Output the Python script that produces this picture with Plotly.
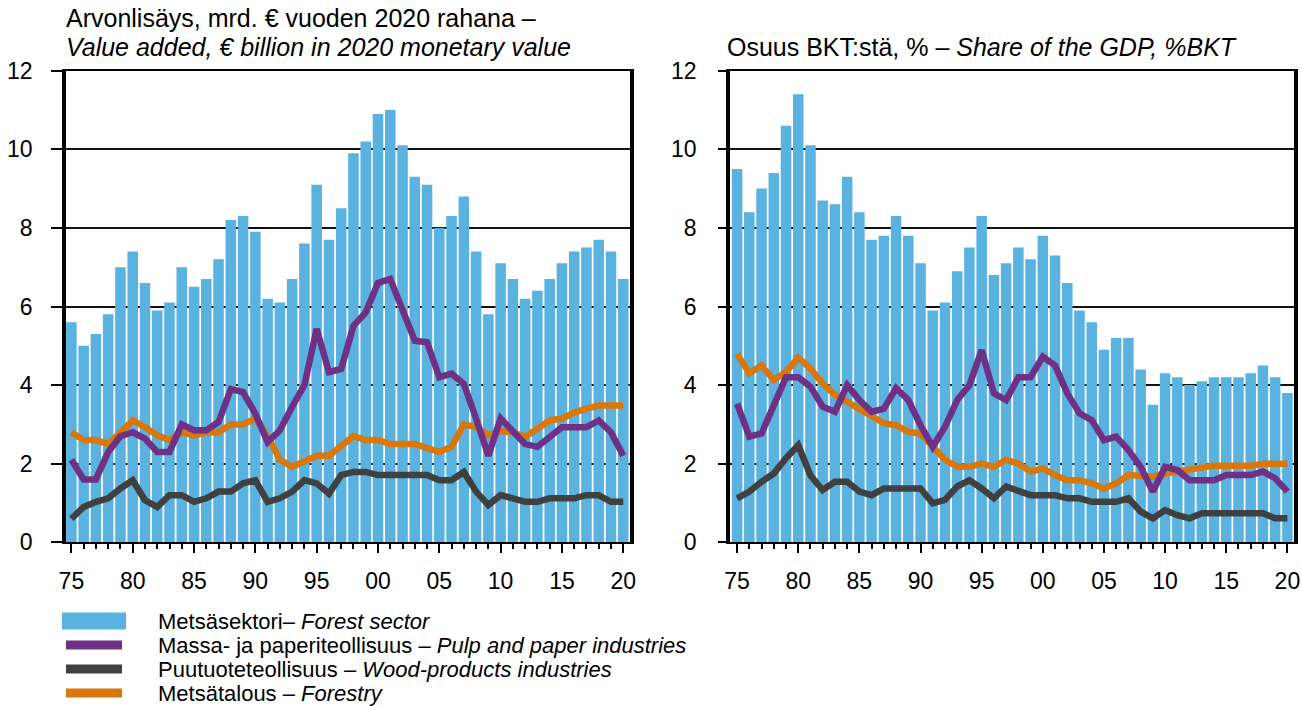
import plotly.graph_objects as go

years = list(range(1975, 2021))
tick_years = [1975, 1980, 1985, 1990, 1995, 2000, 2005, 2010, 2015, 2020]
tick_text = ["75", "80", "85", "90", "95", "00", "05", "10", "15", "20"]

# Left panel: value added, EUR billion (2020 money)
left_forest = [5.6, 5.0, 5.3, 5.8, 7.0, 7.4, 6.6, 5.9, 6.1, 7.0,
               6.5, 6.7, 7.2, 8.2, 8.3, 7.9, 6.2, 6.1, 6.7, 7.6,
               9.1, 7.7, 8.5, 9.9, 10.2, 10.9, 11.0, 10.1, 9.3, 9.1,
               8.0, 8.3, 8.8, 7.4, 5.8, 7.1, 6.7, 6.2, 6.4, 6.7,
               7.1, 7.4, 7.5, 7.7, 7.4, 6.7]
left_pulp = [2.1, 1.6, 1.6, 2.3, 2.7, 2.8, 2.64, 2.3, 2.3, 3.0,
             2.85, 2.85, 3.06, 3.9, 3.82, 3.27, 2.55, 2.85, 3.45, 4.0,
             5.43, 4.33, 4.41, 5.51, 5.85, 6.6, 6.7, 5.9, 5.13, 5.09,
             4.2, 4.29, 4.03, 3.15, 2.2, 3.15, 2.8, 2.5, 2.43, 2.68,
             2.93, 2.93, 2.93, 3.1, 2.8, 2.2]
left_wood = [0.6, 0.9, 1.03, 1.12, 1.37, 1.58, 1.07, 0.9, 1.2, 1.2,
             1.03, 1.12, 1.29, 1.29, 1.5, 1.58, 1.03, 1.12, 1.29, 1.58,
             1.5, 1.24, 1.71, 1.79, 1.79, 1.71, 1.71, 1.71, 1.71, 1.71,
             1.58, 1.58, 1.79, 1.29, 0.95, 1.2, 1.12, 1.03, 1.03, 1.12,
             1.12, 1.12, 1.2, 1.2, 1.03, 1.03]
left_forestry = [2.8, 2.6, 2.6, 2.5, 2.8, 3.1, 2.93, 2.72, 2.6, 2.8,
                 2.72, 2.8, 2.8, 3.0, 3.0, 3.15, 2.7, 2.1, 1.92, 2.05,
                 2.2, 2.2, 2.47, 2.7, 2.6, 2.6, 2.5, 2.5, 2.5, 2.4,
                 2.3, 2.43, 3.0, 2.93, 2.72, 2.83, 2.8, 2.68, 2.9, 3.1,
                 3.15, 3.3, 3.4, 3.48, 3.48, 3.48]

# Right panel: share of GDP, %
right_forest = [9.5, 8.4, 9.0, 9.4, 10.6, 11.4, 10.1, 8.7, 8.6, 9.3,
                8.4, 7.7, 7.8, 8.3, 7.8, 7.1, 5.9, 6.1, 6.9, 7.5,
                8.3, 6.8, 7.1, 7.5, 7.2, 7.8, 7.3, 6.6, 5.9, 5.6,
                4.9, 5.2, 5.2, 4.4, 3.5, 4.3, 4.2, 4.0, 4.1, 4.2,
                4.2, 4.2, 4.3, 4.5, 4.2, 3.8]
right_pulp = [3.53, 2.69, 2.77, 3.45, 4.2, 4.2, 3.96, 3.45, 3.32, 4.0,
              3.62, 3.32, 3.4, 3.92, 3.62, 2.98, 2.43, 2.94, 3.62, 4.0,
              4.89, 3.79, 3.62, 4.2, 4.2, 4.72, 4.5, 3.79, 3.28, 3.11,
              2.6, 2.69, 2.35, 1.92, 1.29, 1.92, 1.84, 1.58, 1.58, 1.58,
              1.71, 1.71, 1.71, 1.8, 1.63, 1.29]
right_wood = [1.12, 1.29, 1.54, 1.75, 2.14, 2.47, 1.7, 1.33, 1.54, 1.54,
              1.29, 1.2, 1.37, 1.37, 1.37, 1.37, 0.99, 1.08, 1.42, 1.58,
              1.37, 1.12, 1.42, 1.29, 1.2, 1.2, 1.2, 1.12, 1.12, 1.03,
              1.03, 1.03, 1.12, 0.78, 0.61, 0.82, 0.69, 0.61, 0.74, 0.74,
              0.74, 0.74, 0.74, 0.74, 0.61, 0.61]
right_forestry = [4.8, 4.3, 4.5, 4.13, 4.34, 4.7, 4.42, 4.04, 3.75, 3.58,
                  3.4, 3.2, 3.03, 2.98, 2.81, 2.77, 2.43, 2.1, 1.92, 1.92,
                  2.0, 1.92, 2.1, 2.0, 1.8, 1.88, 1.71, 1.58, 1.58, 1.5,
                  1.37, 1.5, 1.71, 1.71, 1.67, 1.75, 1.8, 1.84, 1.92, 1.95,
                  1.95, 1.95, 1.95, 2.0, 2.0, 2.0]

y_ticks = [0, 2, 4, 6, 8, 10, 12]

names = ["Metsäsektori– <i>Forest sector</i>",
         "Massa- ja paperiteollisuus – <i>Pulp and paper industries</i>",
         "Puutuoteteollisuus – <i>Wood-products industries</i>",
         "Metsätalous – <i>Forestry</i>"]

C_BAR = "#5AB2E0"
C_PULP = "#6E3186"
C_WOOD = "#404040"
C_FOR = "#D9770A"

W, H = 1301, 706
FONT = "Liberation Sans, Arial, sans-serif"

fig = go.Figure()

panels = [
    ("x", "y", left_forest, left_pulp, left_wood, left_forestry),
    ("x2", "y2", right_forest, right_pulp, right_wood, right_forestry),
]
for xa, ya, bars, pulp, wood, forestry in panels:
    fig.add_trace(go.Bar(x=years, y=bars, marker=dict(color=C_BAR, line=dict(width=0)),
                         xaxis=xa, yaxis=ya, showlegend=False))
    fig.add_trace(go.Scatter(x=years, y=forestry, mode="lines",
                             line=dict(color=C_FOR, width=6.5), xaxis=xa, yaxis=ya, showlegend=False))
    fig.add_trace(go.Scatter(x=years, y=pulp, mode="lines",
                             line=dict(color=C_PULP, width=6.5), xaxis=xa, yaxis=ya, showlegend=False))
    fig.add_trace(go.Scatter(x=years, y=wood, mode="lines",
                             line=dict(color=C_WOOD, width=6.5), xaxis=xa, yaxis=ya, showlegend=False))


def px_x(p):
    return p / W


def px_y(p):
    return 1 - p / H


ydom = [px_y(542.3), px_y(70.7)]

xcommon = dict(
    tickmode="array", tickvals=tick_years, ticktext=tick_text,
    ticks="outside", ticklen=9, tickwidth=2, tickcolor="black",
    minor=dict(tickmode="linear", tick0=1975, dtick=1, ticks="outside",
               ticklen=5, tickwidth=1.5, tickcolor="black", showgrid=False),
    showline=True, linecolor="black", linewidth=2, mirror=True,
    showgrid=False, zeroline=False, fixedrange=True,
    tickfont=dict(family=FONT, size=23, color="black"),
    ticklabelstandoff=8,
)
ycommon = dict(
    range=[0, 12], tickmode="array", tickvals=y_ticks,
    ticks="outside", tickwidth=1.5, tickcolor="black",
    showline=True, linecolor="black", linewidth=3.5, mirror=True,
    showgrid=True, gridcolor="#111111", gridwidth=1.5, zeroline=False,
    tickfont=dict(family=FONT, size=23, color="black"), fixedrange=True,
)

fig.update_layout(
    width=W, height=H,
    margin=dict(l=0, r=0, t=0, b=0, autoexpand=False),
    paper_bgcolor="white", plot_bgcolor="white",
    bargap=0.14,
    showlegend=False,
    xaxis=dict(domain=[px_x(66), px_x(630)], range=[1974.56, 2020.55], anchor="y", **xcommon),
    yaxis=dict(domain=ydom, anchor="x", ticklen=11, ticklabelstandoff=14, **ycommon),
    xaxis2=dict(domain=[px_x(730), px_x(1293.5)], range=[1974.42, 2020.5], anchor="y2", **xcommon),
    yaxis2=dict(domain=ydom, anchor="x2", ticklen=8, ticklabelstandoff=17, **ycommon),
)

annotations = [
    dict(text="Arvonlisäys, mrd. € vuoden 2020 rahana –", x=px_x(64), y=px_y(18)),
    dict(text="<i>Value added, € billion in 2020 monetary value</i>", x=px_x(64), y=px_y(47)),
    dict(text="Osuus BKT:stä, % – <i>Share of the GDP, %BKT</i>", x=px_x(725), y=px_y(47)),
]
for a in annotations:
    a.update(xref="paper", yref="paper", xanchor="left", yanchor="middle", showarrow=False,
             font=dict(family=FONT, size=25, color="black"))

# Legend (drawn manually to mirror the reference layout)
leg_rows = [621, 645, 669, 693]
shapes = [dict(type="rect", xref="paper", yref="paper",
               x0=px_x(62), x1=px_x(126), y0=px_y(629.5), y1=px_y(612.5),
               fillcolor=C_BAR, line=dict(width=0))]
for row, col in zip(leg_rows[1:], [C_PULP, C_WOOD, C_FOR]):
    shapes.append(dict(type="line", xref="paper", yref="paper",
                       x0=px_x(66), x1=px_x(122), y0=px_y(row), y1=px_y(row),
                       line=dict(color=col, width=9)))
for row, name in zip(leg_rows, names):
    annotations.append(dict(text=name, xref="paper", yref="paper", x=px_x(156), y=px_y(row),
                            xanchor="left", yanchor="middle", showarrow=False,
                            font=dict(family=FONT, size=22, color="black")))

fig.update_layout(annotations=annotations, shapes=shapes)

fig.write_html("out.html", config={"displayModeBar": False},
               post_script="document.body.style.margin='0';document.body.style.overflow='hidden';")
